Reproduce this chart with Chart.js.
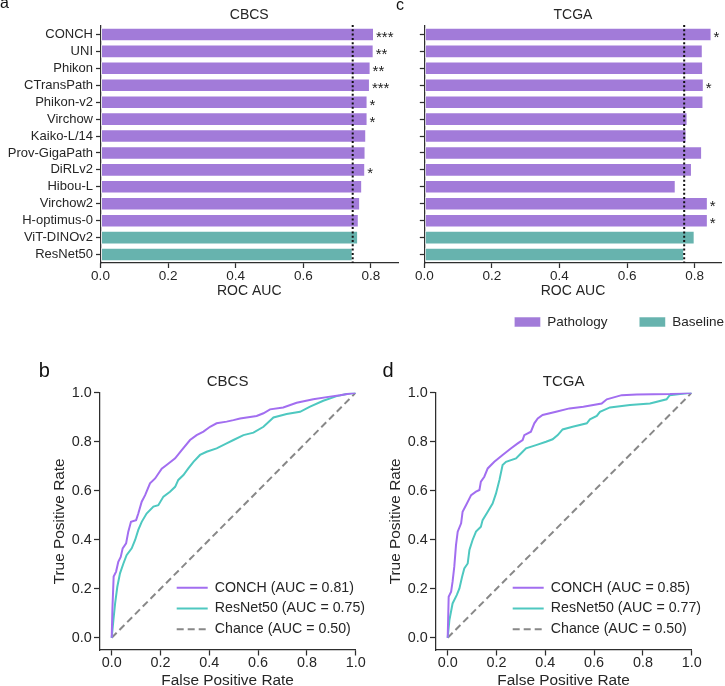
<!DOCTYPE html>
<html><head><meta charset="utf-8">
<script src="https://cdn.jsdelivr.net/npm/chart.js@4.4.1/dist/chart.umd.min.js"></script>
<style>
html,body{margin:0;padding:0;background:#fff;overflow:hidden;}
#fig{position:relative;width:725px;height:686px;overflow:hidden;background:#fff;}
canvas{position:absolute;}
.lt{position:absolute;color:#111;font-family:"Liberation Sans",Arial,sans-serif;white-space:nowrap;}
</style></head><body>
<div id="fig">
<canvas id="ca" width="410" height="300" style="left:0px;top:0px"></canvas>
<canvas id="cc" width="350" height="340" style="left:404px;top:0px"></canvas>
<canvas id="cb" width="370" height="340" style="left:0px;top:360px"></canvas>
<canvas id="cd" width="370" height="340" style="left:336px;top:360px"></canvas>
<div class="lt" style="left:0px;top:-5.5px;font-size:16px;line-height:16px">a</div>
<div class="lt" style="left:396px;top:-3.5px;font-size:16px;line-height:16px">c</div>
<div class="lt" style="left:38.7px;top:359.8px;font-size:20px;line-height:20px">b</div>
<div class="lt" style="left:382.6px;top:359.8px;font-size:20px;line-height:20px">d</div>
</div>
<script>
// ---------------- data ----------------
const models = ['CONCH','UNI','Phikon','CTransPath','Phikon-v2','Virchow','Kaiko-L/14','Prov-GigaPath','DiRLv2','Hibou-L','Virchow2','H-optimus-0','ViT-DINOv2','ResNet50'];
const modelGroup = ['Pathology','Pathology','Pathology','Pathology','Pathology','Pathology','Pathology','Pathology','Pathology','Pathology','Pathology','Pathology','Baseline','Baseline'];
const cbcsAuc = [0.809,0.808,0.799,0.797,0.790,0.790,0.786,0.784,0.783,0.774,0.768,0.764,0.762,0.746];
const tcgaAuc = [0.850,0.824,0.825,0.827,0.826,0.779,0.776,0.822,0.792,0.744,0.839,0.839,0.800,0.769];
const cbcsStars = ['***','**','**','***','*','*','','','*','','','','',''];
const tcgaStars = ['*','','','*','','','','','','','*','*','',''];
const barTicks = [0, 0.2, 0.4, 0.6, 0.8];
const rocTicks = [0, 0.2, 0.4, 0.6, 0.8, 1.0];

const cbcsConchFpr = [0,0.003,0.008,0.018,0.027,0.037,0.045,0.059,0.068,0.079,0.10,0.109,0.123,0.137,0.157,0.178,0.205,0.225,0.26,0.287,0.321,0.348,0.376,0.403,0.43,0.471,0.499,0.526,0.594,0.622,0.649,0.703,0.758,0.826,0.895,0.936,0.977,1];
const cbcsConchTpr = [0,0.12,0.25,0.27,0.31,0.33,0.365,0.385,0.433,0.473,0.48,0.507,0.555,0.582,0.63,0.65,0.69,0.705,0.732,0.766,0.807,0.827,0.841,0.861,0.875,0.882,0.888,0.895,0.905,0.916,0.932,0.94,0.959,0.973,0.984,0.99,0.997,1];
const cbcsResFpr = [0,0.007,0.014,0.023,0.034,0.048,0.061,0.082,0.096,0.109,0.123,0.143,0.171,0.191,0.212,0.239,0.26,0.273,0.294,0.314,0.335,0.362,0.389,0.43,0.471,0.499,0.54,0.581,0.622,0.663,0.717,0.772,0.813,0.867,0.922,0.963,1];
const cbcsResTpr = [0,0.072,0.14,0.208,0.263,0.303,0.337,0.365,0.399,0.44,0.473,0.507,0.535,0.541,0.576,0.596,0.616,0.644,0.664,0.691,0.718,0.746,0.759,0.773,0.793,0.807,0.827,0.837,0.861,0.899,0.913,0.922,0.943,0.967,0.986,0.995,1];
const tcgaConchFpr = [0,0.004,0.014,0.02,0.027,0.034,0.041,0.055,0.061,0.075,0.096,0.116,0.13,0.136,0.15,0.164,0.191,0.225,0.26,0.287,0.307,0.314,0.341,0.355,0.369,0.389,0.444,0.499,0.556,0.631,0.652,0.713,0.775,0.911,1];
const tcgaConchTpr = [0,0.167,0.188,0.229,0.29,0.378,0.433,0.467,0.514,0.541,0.582,0.596,0.603,0.637,0.657,0.691,0.718,0.746,0.773,0.793,0.807,0.827,0.841,0.875,0.895,0.909,0.922,0.936,0.943,0.956,0.973,0.99,0.993,0.995,1];
const tcgaResFpr = [0,0.007,0.02,0.037,0.048,0.059,0.068,0.082,0.089,0.102,0.116,0.136,0.143,0.164,0.184,0.198,0.212,0.225,0.239,0.28,0.3,0.321,0.362,0.403,0.43,0.451,0.471,0.512,0.57,0.583,0.611,0.624,0.665,0.747,0.829,0.897,0.91,0.952,1];
const tcgaResTpr = [0,0.072,0.14,0.174,0.201,0.249,0.283,0.303,0.358,0.399,0.433,0.453,0.48,0.514,0.548,0.589,0.644,0.705,0.718,0.732,0.752,0.773,0.786,0.8,0.81,0.827,0.85,0.861,0.875,0.891,0.905,0.922,0.94,0.95,0.956,0.973,0.99,0.995,1];
const chanceLine = [0, 1];
const rocLegendCbcs = ['CONCH (AUC = 0.81)','ResNet50 (AUC = 0.75)','Chance (AUC = 0.50)'];
const rocLegendTcga = ['CONCH (AUC = 0.85)','ResNet50 (AUC = 0.77)','Chance (AUC = 0.50)'];

// ---------------- styles ----------------
const FONT = '"Liberation Sans", Arial, Helvetica, sans-serif';
const TXT = '#262626';
const AX = '#2e2e2e';
const BAR_PURPLE = '#a27bd9';
const BAR_TEAL = '#67b3ae';
const LINE_PURPLE = '#a26ef0';
const LINE_TEAL = '#4ec8c0';
const CHANCE = '#888888';
Chart.defaults.font.family = FONT;
Chart.defaults.color = TXT;

// legend that does not take layout space and is drawn at a given spot
const floatLegend = {
  id: 'floatLegend',
  afterInit(chart) {
    const lg = chart.legend;
    if (!lg) return;
    const fit = lg.fit.bind(lg);
    lg.fit = function () { fit(); if (this.isHorizontal()) this.height = 0; else this.width = 0; };
  },
  beforeDraw(chart, args, o) {
    const lg = chart.legend;
    if (!lg || !o || o.x === undefined) return;
    lg.left = o.x; lg.top = o.y; lg.right = o.x + o.w; lg.bottom = o.y + o.h;
    lg.width = o.w; lg.height = o.h;
  }
};

const refLine = {
  id: 'refLine',
  afterDatasetsDraw(chart, args, o) {
    const ctx = chart.ctx, x = chart.scales.x.getPixelForValue(o.value);
    const {top, bottom} = chart.chartArea;
    ctx.save();
    ctx.setLineDash([2, 2.3]);
    ctx.lineWidth = 2;
    ctx.strokeStyle = '#111';
    ctx.beginPath(); ctx.moveTo(x, top - 1); ctx.lineTo(x, bottom); ctx.stroke();
    ctx.restore();
  }
};

const starLabels = {
  id: 'starLabels',
  afterDatasetsDraw(chart, args, o) {
    const ctx = chart.ctx;
    ctx.save();
    ctx.font = '15px ' + FONT;
    ctx.fillStyle = '#1a1a1a';
    ctx.textAlign = 'left';
    ctx.textBaseline = 'middle';
    o.stars.forEach((s, i) => {
      if (!s) return;
      chart.data.datasets.forEach((ds, di) => {
        if (ds.data[i] == null) return;
        const el = chart.getDatasetMeta(di).data[i];
        ctx.fillText(s, el.x + 2, el.y + 3.5);
      });
    });
    ctx.restore();
  }
};

function axisGrid(len) {
  return {display: true, drawOnChartArea: false, drawTicks: true, tickLength: len, tickWidth: 1.25, tickColor: AX, color: AX, offset: false};
}

function barChart(id, title, values, stars, showCats, yWidth, padRight, padBottom, legendOpts) {
  const pathData = values.map((v, i) => modelGroup[i] === 'Pathology' ? v : null);
  const baseData = values.map((v, i) => modelGroup[i] === 'Baseline' ? v : null);
  const common = {grouped: false, barPercentage: 0.8, categoryPercentage: 1, borderColor: 'rgba(255,255,255,0.55)', borderWidth: 1, borderSkipped: false};
  return new Chart(document.getElementById(id), {
    type: 'bar',
    data: {labels: models, datasets: [
      Object.assign({label: 'Pathology', data: pathData, backgroundColor: BAR_PURPLE}, common),
      Object.assign({label: 'Baseline', data: baseData, backgroundColor: BAR_TEAL}, common)
    ]},
    options: {
      indexAxis: 'y', responsive: false, animation: false, devicePixelRatio: 1,
      layout: {padding: {top: 0, left: 0, right: padRight, bottom: padBottom}},
      scales: {
        x: {
          type: 'linear', min: 0, max: 0.88,
          afterBuildTicks: ax => { ax.ticks = barTicks.map(v => ({value: v})); },
          afterFit: ax => { ax.height = 37; },
          ticks: {callback: v => Number(v).toFixed(1), font: {size: 13.5, lineHeight: 1}, color: TXT, padding: 2, maxRotation: 0, autoSkip: false},
          grid: axisGrid(5),
          border: {display: true, color: AX, width: 1.25},
          title: {display: true, text: 'ROC AUC', font: {size: 14, lineHeight: 1}, color: TXT, padding: {top: 0, bottom: 2}}
        },
        y: {
          type: 'category',
          afterFit: ax => { ax.width = yWidth; },
          ticks: {autoSkip: false, font: {size: 13, lineHeight: 1}, color: TXT, padding: 3,
                  callback: function (v) { return showCats ? this.getLabelForValue(v) : ''; }},
          grid: axisGrid(4.5),
          border: {display: true, color: AX, width: 1.25}
        }
      },
      plugins: {
        title: {display: true, text: title, fullSize: false, color: TXT, font: {size: 14, weight: 'normal', lineHeight: 1}, padding: {top: 8, bottom: 4}},
        legend: legendOpts ? {display: true, position: 'bottom', align: 'start',
          labels: {boxWidth: 26.3, boxHeight: 10, padding: 31.8, font: {size: 13.5}, color: TXT}} : {display: false},
        tooltip: {enabled: false},
        refLine: {value: values[values.length - 1]},
        starLabels: {stars: stars},
        floatLegend: legendOpts || {}
      }
    },
    plugins: [floatLegend, refLine, starLabels]
  });
}

const pts = (xs, ys) => xs.map((x, i) => ({x: x, y: ys[i]}));

function rocChart(id, title, cF, cT, rF, rT, labels) {
  const line = {backgroundColor: 'transparent', borderWidth: 2, pointRadius: 0, tension: 0, fill: false};
  return new Chart(document.getElementById(id), {
    type: 'line',
    data: {datasets: [
      Object.assign({label: labels[0], data: pts(cF, cT), borderColor: LINE_PURPLE}, line),
      Object.assign({label: labels[1], data: pts(rF, rT), borderColor: LINE_TEAL}, line),
      Object.assign({label: labels[2], data: pts(chanceLine, chanceLine), borderColor: CHANCE, borderDash: [7, 4]}, line)
    ]},
    options: {
      responsive: false, animation: false, devicePixelRatio: 1,
      layout: {padding: {top: 0, left: 0, right: 14.3, bottom: 0}},
      scales: {
        x: {
          type: 'linear', min: -0.05, max: 1.0,
          afterBuildTicks: ax => { ax.ticks = rocTicks.map(v => ({value: v})); },
          afterFit: ax => { ax.height = 50; },
          ticks: {callback: v => Number(v).toFixed(1), font: {size: 14.4, lineHeight: 1}, color: TXT, padding: 0.6, maxRotation: 0, autoSkip: false},
          grid: axisGrid(5.5),
          border: {display: true, color: AX, width: 1.25},
          title: {display: true, text: 'False Positive Rate', font: {size: 15.4, lineHeight: 1}, color: TXT, padding: {top: 0, bottom: 11.8}}
        },
        y: {
          type: 'linear', min: -0.05, max: 1.0,
          afterBuildTicks: ax => { ax.ticks = rocTicks.map(v => ({value: v})); },
          afterFit: ax => { ax.width = 99.5; },
          ticks: {callback: v => Number(v).toFixed(1), font: {size: 14.4, lineHeight: 1}, color: TXT, padding: 2.3, autoSkip: false},
          grid: axisGrid(5.5),
          border: {display: true, color: AX, width: 1.25},
          title: {display: true, text: 'True Positive Rate', font: {size: 15.4, lineHeight: 1}, color: TXT, padding: {top: 51.6, bottom: 0}}
        }
      },
      plugins: {
        title: {display: true, text: title, fullSize: false, color: TXT, font: {size: 15, weight: 'normal', lineHeight: 1}, padding: {top: 14.2, bottom: 3.5}},
        legend: {display: true, position: 'right', align: 'start',
          labels: {boxWidth: 31, boxHeight: 0, padding: 6.6, font: {size: 14.2}, color: TXT}},
        tooltip: {enabled: false},
        floatLegend: {x: 170.1, y: 214.0, w: 200, h: 90}
      }
    },
    plugins: [floatLegend]
  });
}

barChart('ca', 'CBCS', cbcsAuc, cbcsStars, true, 100.5, 12, 0, null);
barChart('cc', 'TCGA', tcgaAuc, tcgaStars, false, 20.3, 32.3, 40, {x: 78.5, y: 283.45, w: 340, h: 60});
rocChart('cb', 'CBCS', cbcsConchFpr, cbcsConchTpr, cbcsResFpr, cbcsResTpr, rocLegendCbcs);
rocChart('cd', 'TCGA', tcgaConchFpr, tcgaConchTpr, tcgaResFpr, tcgaResTpr, rocLegendTcga);
</script>
</body></html>
